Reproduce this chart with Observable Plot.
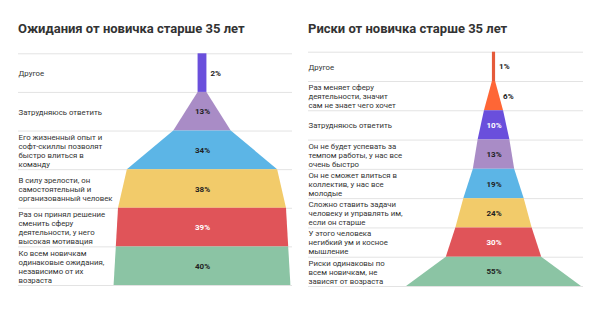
<!DOCTYPE html>
<html><head><meta charset="utf-8">
<script src="https://cdn.jsdelivr.net/npm/d3@7"></script>
<script src="https://cdn.jsdelivr.net/npm/@observablehq/plot@0.6"></script>
<style>
body{margin:0;background:#fff;font-family:Roboto,sans-serif}
#wrap{position:relative;width:600px;height:322px;overflow:hidden;background:#fff}
.panel{position:absolute;top:0;width:300px;height:322px}
.title{position:absolute;top:21px;font:bold 13px Roboto,sans-serif;color:#333;white-space:nowrap}
</style></head><body><div id="wrap"></div>
<script>
const leftTitle = "Ожидания от новичка старше 35 лет";
const leftCategories = [
  "Другое",
  "Затрудняюсь ответить",
  "Его жизненный опыт и\nсофт-скиллы позволят\nбыстро влиться в\nкоманду",
  "В силу зрелости, он\nсамостоятельный и\nорганизованный человек",
  "Раз он принял решение\nсменить сферу\nдеятельности, у него\nвысокая мотивация",
  "Ко всем новичкам\nодинаковые ожидания,\nнезависимо от их\nвозраста"
];
const leftValues = [2, 13, 34, 38, 39, 40];
const leftColors = ["#6a4fdc", "#a98cc6", "#5cb5e6", "#f2cb6a", "#e05459", "#8bc4a4"];

const rightTitle = "Риски от новичка старше 35 лет";
const rightCategories = [
  "Другое",
  "Раз меняет сферу\nдеятельности, значит\nсам не знает чего хочет",
  "Затрудняюсь ответить",
  "Он не будет успевать за\nтемпом работы, у нас все\nочень быстро",
  "Он не сможет влиться в\nколлектив, у нас все\nмолодые",
  "Сложно ставить задачи\nчеловеку и управлять им,\nесли он старше",
  "У этого человека\nнегибкий ум и косное\nмышление",
  "Риски одинаковы по\nвсем новичкам, не\nзависят от возраста"
];
const rightValues = [1, 6, 10, 13, 19, 24, 30, 55];
const rightColors = ["#e55a3a", "#fe6636", "#6a4fdc", "#a98cc6", "#5cb5e6", "#f2cb6a", "#e05459", "#8bc4a4"];

const lightOn = new Set(["#6a4fdc", "#e05459"]);

function funnel({title, categories, values, colors, left, center, pxPerPct, top, bottom, mL, mR, titleX}) {
  const n = values.length;
  const rows = categories.map((c, i) => ({i, c, v: values[i], prev: i === 0 ? values[0] : values[i - 1], color: colors[i]}));
  const pts = rows.flatMap(r => [{i: r.i, y: r.i, w: r.prev, color: r.color}, {i: r.i, y: r.i + 1, w: r.v, color: r.color}]);
  const inside = rows.filter(r => r.v >= 8);
  const outside = rows.filter(r => r.v < 8);
  const svg = Plot.plot({
    width: 300, height: 322,
    marginLeft: mL, marginRight: mR, marginTop: 0, marginBottom: 0,
    x: {domain: [-center / pxPerPct, (300 - center) / pxPerPct], range: [0, 300], axis: null},
    y: {domain: [0, n], range: [top, bottom], axis: null},
    color: {type: "identity"},
    style: {fontFamily: "Roboto, sans-serif", background: "transparent"},
    marks: [
      Plot.ruleY(d3.range(n + 1), {y: d => d, stroke: "#e3e3e3", strokeWidth: 1}),
      Plot.areaX(pts, {y: "y", x1: d => -d.w / 2, x2: d => d.w / 2, z: "i", fill: "color"}),
      Plot.text(rows, {y: d => d.i + 0.5, text: "c", frameAnchor: "left", textAnchor: "start",
        fontSize: 7.8, lineHeight: 1.15, fill: "#333"}),
      Plot.text(inside, {x: 0, y: d => d.i + 0.5, text: d => d.v + "%", fontSize: 8, fontWeight: "bold",
        fill: d => lightOn.has(d.color) ? "#fff" : "#222"}),
      Plot.text(outside, {x: d => (d.v + d.prev) / 4, y: d => d.i + 0.5, text: d => d.v + "%", dx: 3.5,
        textAnchor: "start", fontSize: 8, fontWeight: "bold", fill: "#222"})
    ]
  });
  const panel = document.createElement("div");
  panel.className = "panel";
  panel.style.left = left + "px";
  panel.appendChild(svg);
  const t = document.createElement("div");
  t.className = "title";
  t.style.left = titleX + "px";
  t.textContent = title;
  panel.appendChild(t);
  document.getElementById("wrap").appendChild(panel);
}

funnel({title: leftTitle, categories: leftCategories, values: leftValues, colors: leftColors,
  left: 0, center: 202, pxPerPct: 4.42, top: 53.3, bottom: 285, mL: 18, mR: 8, titleX: 18});
funnel({title: rightTitle, categories: rightCategories, values: rightValues, colors: rightColors,
  left: 300, center: 193.5, pxPerPct: 3.18, top: 51.7, bottom: 286, mL: 8, mR: 17, titleX: 8});
</script></body></html>
